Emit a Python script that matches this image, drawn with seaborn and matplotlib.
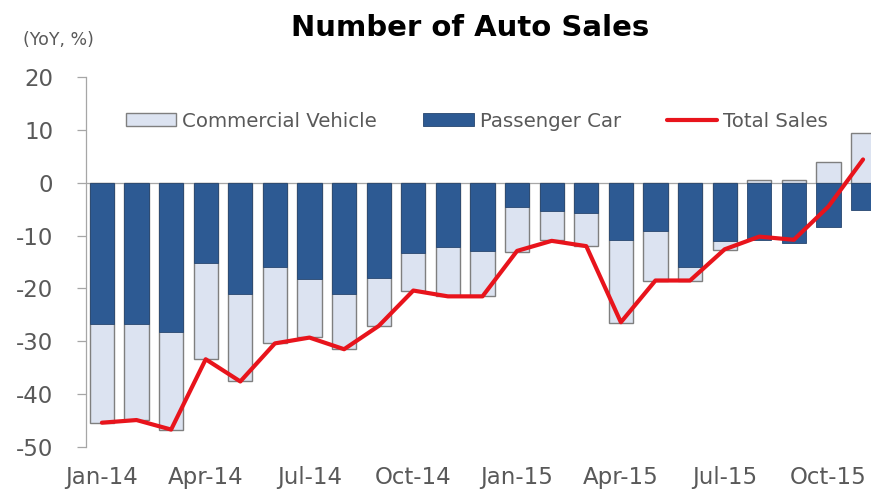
import numpy as np
import pandas as pd
import matplotlib
matplotlib.use("Agg")
import matplotlib.pyplot as plt
import seaborn as sns
from matplotlib.patches import Patch
from matplotlib.lines import Line2D

months = ["Jan-14", "Feb-14", "Mar-14", "Apr-14", "May-14", "Jun-14", "Jul-14", "Aug-14",
          "Sep-14", "Oct-14", "Nov-14", "Dec-14", "Jan-15", "Feb-15", "Mar-15", "Apr-15",
          "May-15", "Jun-15", "Jul-15", "Aug-15", "Sep-15", "Oct-15", "Nov-15"]
passenger = [-26.7, -26.7, -28.2, -15.2, -21.0, -16.0, -18.2, -21.1, -18.1, -13.3, -12.1, -13.0,
             -4.6, -5.3, -5.7, -10.8, -9.1, -16.0, -11.0, -10.8, -11.4, -8.3, -5.1]
commercial = [-18.8, -18.2, -18.6, -18.2, -16.6, -14.4, -10.9, -10.4, -9.1, -7.2, -9.3, -8.5,
              -8.5, -5.5, -6.2, -15.8, -9.5, -2.5, -1.7, 0.6, 0.6, 4.0, 9.4]
total = [-45.4, -44.9, -46.7, -33.4, -37.6, -30.4, -29.3, -31.5, -27.1, -20.4, -21.5, -21.5,
         -12.9, -11.0, -12.0, -26.4, -18.5, -18.5, -12.6, -10.2, -10.8, -4.5, 4.4]
tick_labels = ["Jan-14", "Apr-14", "Jul-14", "Oct-14", "Jan-15", "Apr-15", "Jul-15", "Oct-15"]
yticks = [20, 10, 0, -10, -20, -30, -40, -50]

dark = "#2D5A93"
light = "#DCE3F1"
edge = "#7F7F7F"
red = "#E8141C"
txt = "#595959"

sns.set_theme(style="white")
plt.rcParams["font.family"] = ["DejaVu Sans"]

df = pd.DataFrame({"month": months, "passenger": passenger, "commercial": commercial, "total": total})
p = np.array(passenger)
c = np.array(commercial)
df["comm_extent"] = np.where(c < 0, p + c, c)
df["idx"] = np.arange(len(months))

fig = plt.figure(figsize=(8.71, 4.92), dpi=100)
ax = fig.add_axes([86 / 871, 1 - 447 / 492, 785 / 871, 370 / 492])

sns.barplot(data=df, x="month", y="comm_extent", color=light, saturation=1, width=0.7,
            edgecolor=edge, linewidth=1.0, ax=ax, zorder=2)
sns.barplot(data=df, x="month", y="passenger", color=dark, saturation=1, width=0.7,
            edgecolor="#27466F", linewidth=0.6, ax=ax, zorder=3)
sns.lineplot(data=df, x="idx", y="total", color=red, linewidth=3, ax=ax, zorder=4)

ax.axhline(0, color="#A6A6A6", linewidth=0.9, zorder=1)
ax.set_xlim(-0.46, 22.23)
ax.set_ylim(-50, 20)
ax.set_yticks(yticks)
ax.set_yticklabels([str(v) for v in yticks])
tick_pos = [months.index(m) for m in tick_labels]
ax.set_xticks(tick_pos)
ax.set_xticklabels(tick_labels)
ax.set_xlabel("")
ax.set_ylabel("")

for s in ["top", "right", "bottom"]:
    ax.spines[s].set_visible(False)
ax.spines["left"].set_color("#A6A6A6")
ax.spines["left"].set_linewidth(0.9)
ax.tick_params(axis="y", left=True, length=6.5, width=0.9, color="#A6A6A6", pad=17,
               labelsize=16.5, labelcolor=txt)
ax.tick_params(axis="x", bottom=False, length=0, pad=14, labelsize=16.5, labelcolor=txt)

handles = [Patch(facecolor=light, edgecolor=edge, linewidth=1.0),
           Patch(facecolor=dark, edgecolor="#27466F", linewidth=0.6),
           Line2D([0], [0], color=red, linewidth=3)]
ax.legend(handles, ["Commercial Vehicle", "Passenger Car", "Total Sales"],
          loc="center left", bbox_to_anchor=(0.0285, 0.881), ncol=3, frameon=False,
          fontsize=14.2, handlelength=2.55, handleheight=0.62, handletextpad=0.3,
          columnspacing=2.35, labelcolor=txt)

fig.text(470 / 871, 1 - 28 / 492, "Number of Auto Sales", ha="center", va="center",
         fontsize=21, fontweight="bold", color="black")
fig.text(23 / 871, 1 - 40 / 492, "(YoY, %)", ha="left", va="center", fontsize=12.5, color=txt)

fig.savefig("out.png", dpi=100)
